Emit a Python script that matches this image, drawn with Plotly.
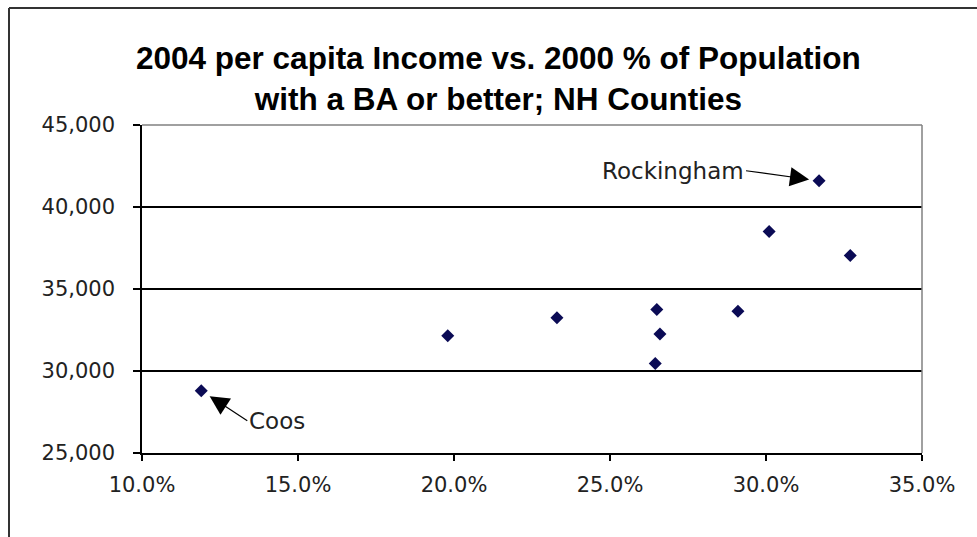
import plotly.graph_objects as go

# Data
ba_pct = [0.119, 0.198, 0.233, 0.265, 0.266, 0.2645, 0.291, 0.301, 0.317, 0.327]
income = [28800, 32150, 33250, 33750, 32250, 30450, 33650, 38500, 41600, 37050]
labels = ["Coos", "", "", "", "", "", "", "", "Rockingham", ""]

x_ticks = [0.10, 0.15, 0.20, 0.25, 0.30, 0.35]
y_ticks = [25000, 30000, 35000, 40000, 45000]

W, H = 977, 537
ML, MR, MT, MB = 142, 55, 125, 84
PW, PH = W - ML - MR, H - MT - MB


def px_x(px):
    return (px - ML) / PW


def px_y(py):
    return (H - MB - py) / PH


tick_font = dict(family="DejaVu Sans", size=21, color="#222222")

fig = go.Figure()
fig.add_trace(go.Scatter(
    x=ba_pct, y=income, mode="markers",
    marker=dict(symbol="diamond", size=10, color="#0b0b55"),
    hoverinfo="x+y", showlegend=False,
))

fig.update_layout(
    width=W, height=H,
    margin=dict(l=ML, r=MR, t=MT, b=MB, pad=0),
    paper_bgcolor="white", plot_bgcolor="white",
    showlegend=False,
    xaxis=dict(
        range=[x_ticks[0], x_ticks[-1]], tickvals=x_ticks, tickformat=".1%",
        showgrid=False, zeroline=False,
        showline=True, linecolor="black", linewidth=1.5,
        ticks="outside", ticklen=6, tickwidth=1.5, tickcolor="black",
        tickfont=tick_font, ticklabelstandoff=6,
    ),
    yaxis=dict(
        range=[y_ticks[0], y_ticks[-1]], tickvals=y_ticks, tickformat=",d",
        showgrid=True, gridcolor="black", gridwidth=1.5, zeroline=False,
        showline=True, linecolor="black", linewidth=1.5,
        ticks="outside", ticklen=7, tickwidth=1.5, tickcolor="black",
        tickfont=tick_font, ticklabelstandoff=14,
    ),
)

# Plot-area top and right border (gray), outer chart frame
fig.add_shape(type="line", xref="paper", yref="paper", x0=0, x1=1, y0=1, y1=1,
              line=dict(color="#808080", width=1.5), layer="above")
fig.add_shape(type="line", xref="paper", yref="paper", x0=1, x1=1, y0=0, y1=1,
              line=dict(color="#808080", width=1.5), layer="above")
fig.add_shape(type="line", xref="paper", yref="paper",
              x0=px_x(9), x1=px_x(9), y0=px_y(8), y1=px_y(H + 5),
              line=dict(color="#333333", width=2), layer="above")
fig.add_shape(type="line", xref="paper", yref="paper",
              x0=px_x(9), x1=px_x(W + 5), y0=px_y(8), y1=px_y(8),
              line=dict(color="#333333", width=2), layer="above")

# Title
fig.add_annotation(
    xref="paper", yref="paper", x=px_x(498), y=px_y(38),
    xanchor="center", yanchor="top", showarrow=False,
    text="<b>2004 per capita Income vs. 2000 % of Population<br>with a BA or better; NH Counties</b>",
    font=dict(family="Liberation Sans", size=31.5, color="black"),
)

# Callouts
ann_font = dict(family="DejaVu Sans", size=23, color="#222222")
i = labels.index("Coos")
fig.add_annotation(
    x=ba_pct[i], y=income[i], text=labels[i], font=ann_font,
    showarrow=True, arrowhead=2, arrowsize=3.2, arrowwidth=1.2, arrowcolor="black",
    ax=46, ay=30, xanchor="left", yanchor="middle", standoff=10,
)
i = labels.index("Rockingham")
fig.add_annotation(
    x=ba_pct[i], y=income[i], text=labels[i], font=ann_font,
    showarrow=True, arrowhead=2, arrowsize=3.2, arrowwidth=1.2, arrowcolor="black",
    ax=-73, ay=-10, xanchor="right", yanchor="middle", standoff=10,
)

fig.write_html("out.html")
